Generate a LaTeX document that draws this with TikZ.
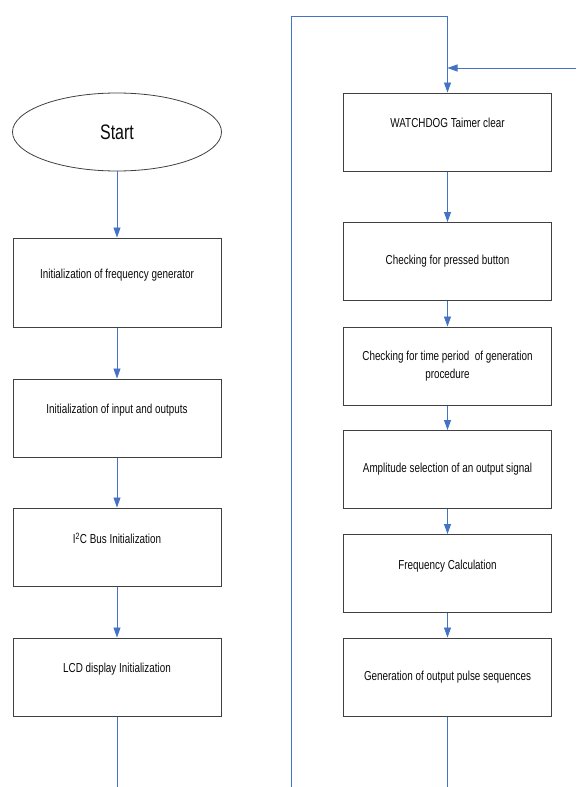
\documentclass[tikz,border=0pt]{standalone}
\usepackage{fontspec}
\setmainfont{Liberation Sans}[FakeStretch=0.76]
\usepackage{tikz}
\usetikzlibrary{arrows.meta,positioning,shapes.geometric}
\definecolor{flowink}{HTML}{0A0A0A}
\definecolor{flowedge}{HTML}{404040}
\definecolor{flowblue}{HTML}{4472C4}

\begin{document}
\begin{tikzpicture}[x=1pt,y=-1pt,>={Triangle[length=10pt,width=7pt]},
  line join=miter,
  font=\fontsize{13}{18}\selectfont,text=flowink,
  stepbox/.style={draw=flowedge,line width=1pt,rectangle,minimum width=208pt,
    minimum height=78pt,align=center,inner sep=2pt},
  startnode/.style={draw=flowedge,line width=.8pt,ellipse,minimum width=209pt,
    minimum height=78pt,font=\fontsize{21}{24}\selectfont},
  flow/.style={flowblue,line width=.9pt}]
\path[use as bounding box] (0,0) rectangle (576,787);
\fill[white] (0,0) rectangle (576,787);

% left column: start and initialisation steps
\node[startnode] (start) at (117,132) {Start};
\node[stepbox,minimum height=89pt] (freq) at (117,282.5) {Initialization of frequency generator\\\mbox{}};
\node[stepbox] (io) at (117,418) {Initialization of input and outputs\\\mbox{}};
\node[stepbox] (itwoc) at (117,547) {I\textsuperscript{2}C Bus Initialization\\\mbox{}};
\node[stepbox] (lcd) at (117,677) {LCD display Initialization\\\mbox{}};
\coordinate (leftend) at (117,787);

% right column: main loop
\node[stepbox] (wdog) at (447.5,132) {WATCHDOG Taimer clear\\\mbox{}};
\node[stepbox] (button) at (447.5,261.5) {Checking for pressed button};
\node[stepbox] (period) at (447.5,366) {Checking for time period\ \ of generation\\procedure};
\node[stepbox] (ampl) at (447.5,469.5) {Amplitude selection of an output signal};
\node[stepbox] (fcalc) at (447.5,573.5) {Frequency Calculation\\\mbox{}};
\node[stepbox] (pulse) at (447.5,677) {Generation of output pulse sequences};
\coordinate (rightend) at (447.5,787);

% loop return and outside entry
\coordinate (loopbot) at (291,787);
\coordinate (looptop) at (291,16);
\coordinate (loopturn) at (447.5,16);
\coordinate (entry) at (447.5,68);
\coordinate (entryfar) at (576,68);

\draw[flow,->] (start) -- (freq);
\draw[flow,->] (freq) -- (io);
\draw[flow,->] (io) -- (itwoc);
\draw[flow,->] (itwoc) -- (lcd);
\draw[flow] (lcd) -- (leftend);

\draw[flow,->] (wdog) -- (button);
\draw[flow,->] (button) -- (period);
\draw[flow,->] (period) -- (ampl);
\draw[flow,->] (ampl) -- (fcalc);
\draw[flow,->] (fcalc) -- (pulse);
\draw[flow] (pulse) -- (rightend);

\draw[flow,->] (loopbot) -- (looptop) -- (loopturn) -- (wdog);
\draw[flow,->] (entryfar) -- (entry);
\end{tikzpicture}
\end{document}
